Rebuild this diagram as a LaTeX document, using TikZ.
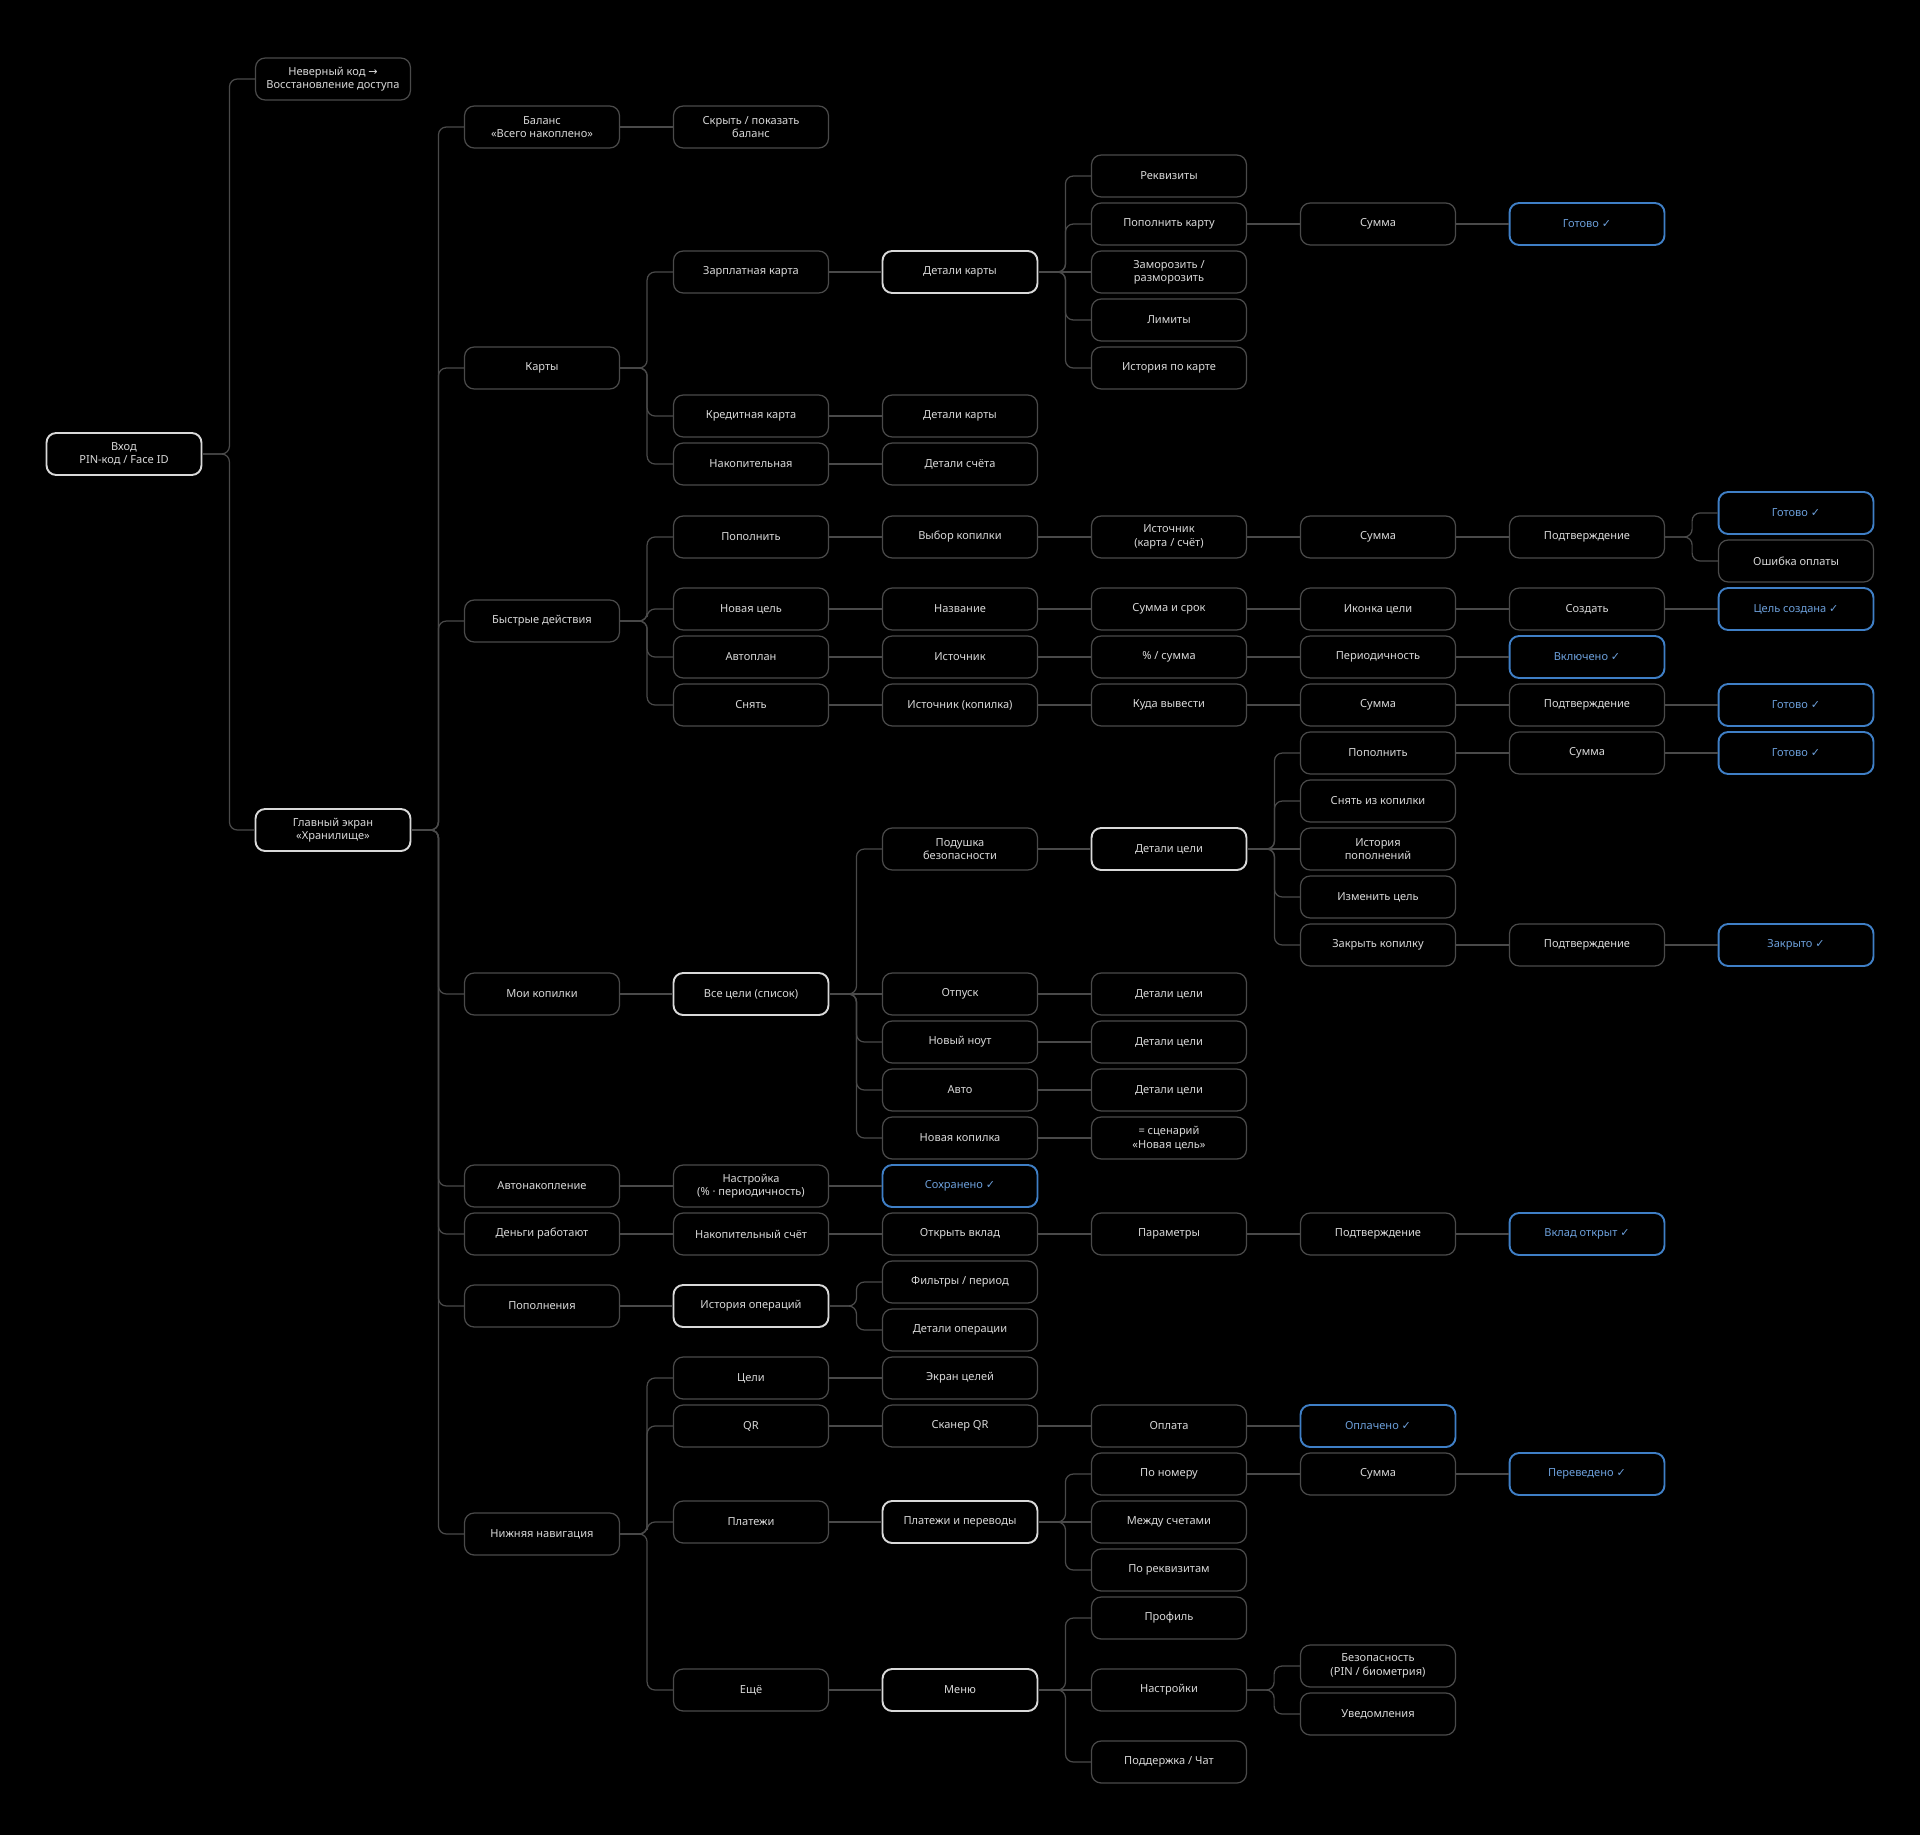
\documentclass[tikz,border=0pt]{standalone}
\usepackage{fontspec}
\setsansfont{Noto Sans}
\newfontfamily\symfont{DejaVu Sans}
\usepackage{xcolor}
\definecolor{edge}{HTML}{4A4A4A}
\definecolor{txt}{HTML}{D8D8D8}
\definecolor{blu}{HTML}{3F7FC6}
\definecolor{blutxt}{HTML}{6C9FDA}
\newcommand{\ck}{{\symfont ✓}}
\newcommand{\toarr}{{\symfont →}}

\begin{document}
\begin{tikzpicture}[x=0.02cm,y=-0.02cm]

  % node styles
  \tikzset{
    Box/.style={
      shape=rectangle, rounded corners=5.5pt, draw=edge, line width=0.7pt,
      fill=black, text=txt, font=\sffamily\fontsize{6.3}{7.6}\selectfont,
      align=center, minimum width=3.1cm, minimum height=0.84cm, inner sep=0pt},
    Key/.style={Box, draw=white!85!black, line width=1.1pt},
    Done/.style={Box, draw=blu, line width=1.1pt, text=blutxt},
    Wire/.style={draw=edge, line width=0.7pt, rounded corners=4.5pt}
  }

  \fill[black] (0,0) rectangle (1920,1835);

  % column 0
  \node[Key] (vhod) at (124,454) {Вход\\PIN-код / Face ID};

  % column 1
  \node[Box] (nev)  at (333,79)  {Неверный код \toarr\\Восстановление доступа};
  \node[Key] (glav) at (333,830) {Главный экран\\«Хранилище»};

  % column 2
  \node[Box] (bal)   at (542,127)  {Баланс\\«Всего накоплено»};
  \node[Box] (karty) at (542,368)  {Карты};
  \node[Box] (bystr) at (542,621)  {Быстрые действия};
  \node[Box] (kop)   at (542,994)  {Мои копилки};
  \node[Box] (avto)  at (542,1186) {Автонакопление};
  \node[Box] (den)   at (542,1234) {Деньги работают};
  \node[Box] (popl)  at (542,1306) {Пополнения};
  \node[Box] (nav)   at (542,1534) {Нижняя навигация};

  % column 3
  \node[Box] (skr)   at (751,127)  {Скрыть / показать\\баланс};
  \node[Box] (zarp)  at (751,272)  {Зарплатная карта};
  \node[Box] (kred)  at (751,416)  {Кредитная карта};
  \node[Box] (nakop) at (751,464)  {Накопительная};
  \node[Box] (qpop)  at (751,537)  {Пополнить};
  \node[Box] (qnew)  at (751,609)  {Новая цель};
  \node[Box] (qplan) at (751,657)  {Автоплан};
  \node[Box] (qsn)   at (751,705)  {Снять};
  \node[Key] (allg)  at (751,994)  {Все цели (список)};
  \node[Box] (nastr) at (751,1186) {Настройка\\(\% · периодичность)};
  \node[Box] (nsch)  at (751,1234) {Накопительный счёт};
  \node[Key] (hist)  at (751,1306) {История операций};
  \node[Box] (tseli) at (751,1378) {Цели};
  \node[Box] (qr)    at (751,1426) {QR};
  \node[Box] (plat)  at (751,1522) {Платежи};
  \node[Box] (esche) at (751,1690) {Ещё};

  % column 4
  \node[Key] (det1)  at (960,272)  {Детали карты};
  \node[Box] (det2)  at (960,416)  {Детали карты};
  \node[Box] (dets)  at (960,464)  {Детали счёта};
  \node[Box] (vyb)   at (960,537)  {Выбор копилки};
  \node[Box] (nazv)  at (960,609)  {Название};
  \node[Box] (ist)   at (960,657)  {Источник};
  \node[Box] (istk)  at (960,705)  {Источник (копилка)};
  \node[Box] (pod)   at (960,849)  {Подушка\\безопасности};
  \node[Box] (otp)   at (960,994)  {Отпуск};
  \node[Box] (nout)  at (960,1042) {Новый ноут};
  \node[Box] (auto)  at (960,1090) {Авто};
  \node[Box] (nkop)  at (960,1138) {Новая копилка};
  \node[Done] (sohr) at (960,1186) {Сохранено \ck};
  \node[Box] (vklad) at (960,1234) {Открыть вклад};
  \node[Box] (filt)  at (960,1282) {Фильтры / период};
  \node[Box] (dop)   at (960,1330) {Детали операции};
  \node[Box] (ekr)   at (960,1378) {Экран целей};
  \node[Box] (scan)  at (960,1426) {Сканер QR};
  \node[Key] (pip)   at (960,1522) {Платежи и переводы};
  \node[Key] (menu)  at (960,1690) {Меню};

  % column 5
  \node[Box] (rekv)  at (1169,176)  {Реквизиты};
  \node[Box] (popk)  at (1169,224)  {Пополнить карту};
  \node[Box] (zamor) at (1169,272)  {Заморозить /\\разморозить};
  \node[Box] (lim)   at (1169,320)  {Лимиты};
  \node[Box] (istc)  at (1169,368)  {История по карте};
  \node[Box] (src)   at (1169,537)  {Источник\\(карта / счёт)};
  \node[Box] (ss)    at (1169,609)  {Сумма и срок};
  \node[Box] (pct)   at (1169,657)  {\% / сумма};
  \node[Box] (kuda)  at (1169,705)  {Куда вывести};
  \node[Key] (dcel)  at (1169,849)  {Детали цели};
  \node[Box] (dc1)   at (1169,994)  {Детали цели};
  \node[Box] (dc2)   at (1169,1042) {Детали цели};
  \node[Box] (dc3)   at (1169,1090) {Детали цели};
  \node[Box] (scen)  at (1169,1138) {= сценарий\\«Новая цель»};
  \node[Box] (param) at (1169,1234) {Параметры};
  \node[Box] (opl)   at (1169,1426) {Оплата};
  \node[Box] (ponum) at (1169,1474) {По номеру};
  \node[Box] (mezh)  at (1169,1522) {Между счетами};
  \node[Box] (porek) at (1169,1570) {По реквизитам};
  \node[Box] (prof)  at (1169,1618) {Профиль};
  \node[Box] (nast)  at (1169,1690) {Настройки};
  \node[Box] (supp)  at (1169,1762) {Поддержка / Чат};

  % column 6
  \node[Box] (sum1)  at (1378,224)  {Сумма};
  \node[Box] (sum2)  at (1378,537)  {Сумма};
  \node[Box] (ikon)  at (1378,609)  {Иконка цели};
  \node[Box] (per)   at (1378,657)  {Периодичность};
  \node[Box] (sum3)  at (1378,705)  {Сумма};
  \node[Box] (gpop)  at (1378,753)  {Пополнить};
  \node[Box] (gsn)   at (1378,801)  {Снять из копилки};
  \node[Box] (gist)  at (1378,849)  {История\\пополнений};
  \node[Box] (gizm)  at (1378,897)  {Изменить цель};
  \node[Box] (gzak)  at (1378,945)  {Закрыть копилку};
  \node[Box] (vpodt) at (1378,1234) {Подтверждение};
  \node[Done] (oplc) at (1378,1426) {Оплачено \ck};
  \node[Box] (sum4)  at (1378,1474) {Сумма};
  \node[Box] (bez)   at (1378,1666) {Безопасность\\(PIN / биометрия)};
  \node[Box] (uved)  at (1378,1714) {Уведомления};

  % column 7
  \node[Done] (got1)  at (1587,224)  {Готово \ck};
  \node[Box]  (podt1) at (1587,537)  {Подтверждение};
  \node[Box]  (sozd)  at (1587,609)  {Создать};
  \node[Done] (vkl)   at (1587,657)  {Включено \ck};
  \node[Box]  (podt2) at (1587,705)  {Подтверждение};
  \node[Box]  (sum5)  at (1587,753)  {Сумма};
  \node[Box]  (podt3) at (1587,945)  {Подтверждение};
  \node[Done] (votkr) at (1587,1234) {Вклад открыт \ck};
  \node[Done] (perev) at (1587,1474) {Переведено \ck};

  % column 8
  \node[Done] (got2) at (1796,513) {Готово \ck};
  \node[Box]  (osh)  at (1796,561) {Ошибка оплаты};
  \node[Done] (cs)   at (1796,609) {Цель создана \ck};
  \node[Done] (got3) at (1796,705) {Готово \ck};
  \node[Done] (got4) at (1796,753) {Готово \ck};
  \node[Done] (zakr) at (1796,945) {Закрыто \ck};

  % connectors on the same row
  \foreach \a/\b in {bal/skr, zarp/det1, det1/zamor, popk/sum1, sum1/got1,
      kred/det2, nakop/dets,
      qpop/vyb, vyb/src, src/sum2, sum2/podt1,
      qnew/nazv, nazv/ss, ss/ikon, ikon/sozd, sozd/cs,
      qplan/ist, ist/pct, pct/per, per/vkl,
      qsn/istk, istk/kuda, kuda/sum3, sum3/podt2, podt2/got3,
      kop/allg, allg/otp, pod/dcel, dcel/gist,
      gpop/sum5, sum5/got4, gzak/podt3, podt3/zakr,
      otp/dc1, nout/dc2, auto/dc3, nkop/scen,
      avto/nastr, nastr/sohr,
      den/nsch, nsch/vklad, vklad/param, param/vpodt, vpodt/votkr,
      popl/hist, tseli/ekr, qr/scan, scan/opl, opl/oplc,
      plat/pip, pip/mezh, ponum/sum4, sum4/perev,
      esche/menu, menu/nast}
    \draw[Wire] (\a.east) -- (\b.west);

  % branching connectors
  \foreach \a/\b in {vhod/nev, vhod/glav,
      glav/bal, glav/karty, glav/bystr, glav/kop, glav/avto, glav/den, glav/popl, glav/nav,
      karty/zarp, karty/kred, karty/nakop,
      det1/rekv, det1/popk, det1/lim, det1/istc,
      podt1/got2, podt1/osh,
      bystr/qpop, bystr/qnew, bystr/qplan, bystr/qsn,
      allg/pod, allg/nout, allg/auto, allg/nkop,
      dcel/gpop, dcel/gsn, dcel/gizm, dcel/gzak,
      hist/filt, hist/dop,
      nav/tseli, nav/qr, nav/plat, nav/esche,
      pip/ponum, pip/porek,
      menu/prof, menu/supp, nast/bez, nast/uved}
    \draw[Wire] (\a.east) -- ++(27,0) |- (\b.west);

\end{tikzpicture}
\end{document}
